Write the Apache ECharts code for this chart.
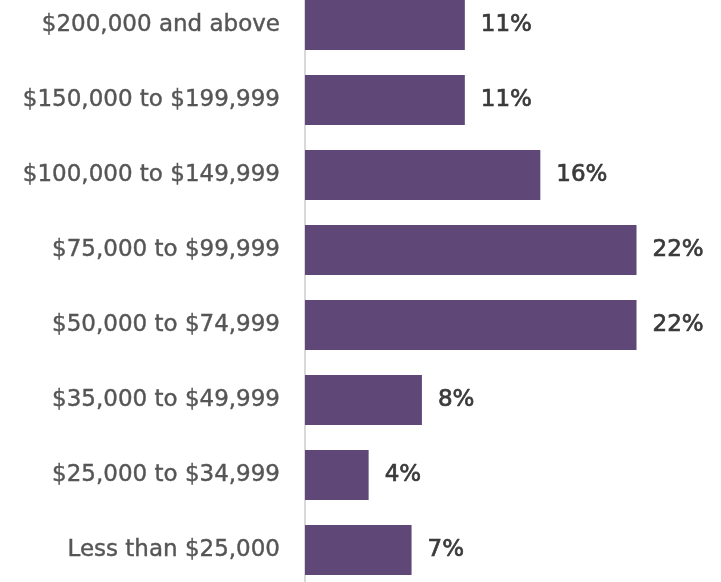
<!DOCTYPE html>
<html>
<head>
<meta charset="utf-8">
<script src="https://cdn.jsdelivr.net/npm/echarts@6/dist/echarts.min.js"></script>
<style>html,body{margin:0;padding:0;background:#fff;}#c{width:721px;height:582px;}</style>
</head>
<body>
<div id="c"></div>
<script>
const categories = ["$200,000 and above","$150,000 to $199,999","$100,000 to $149,999","$75,000 to $99,999","$50,000 to $74,999","$35,000 to $49,999","$25,000 to $34,999","Less than $25,000"];
const values = [10.8, 10.8, 15.9, 22.4, 22.4, 7.9, 4.3, 7.2];

const chart = echarts.init(document.getElementById('c'), null, {renderer:'canvas'});
chart.setOption({
  animation: false,
  grid: {left: 305, top: -12.5, width: 370, height: 600, outerBoundsMode: 'none', containLabel: false},
  xAxis: {type: 'value', min: 0, max: 25, show: false, splitLine: {show: false}},
  yAxis: {
    type: 'category', data: categories, inverse: true,
    axisLine: {show: true, lineStyle: {color: '#d9d9d9', width: 2}},
    axisTick: {show: false},
    axisLabel: {margin: 25, color: '#555555', fontFamily: 'DejaVu Sans', fontSize: 23,
      textBorderColor: '#555555', textBorderWidth: 0.4}
  },
  series: [{
    type: 'bar', data: values, barCategoryGap: '33.3%',
    itemStyle: {color: '#5f4777'},
    label: {show: true, position: 'right', distance: 16, color: '#3a3a3a', fontFamily: 'DejaVu Sans', fontSize: 23,
      textBorderColor: '#3a3a3a', textBorderWidth: 0.7,
      formatter: p => Math.round(p.value) + '%'}
  }]
});
</script>
</body>
</html>
